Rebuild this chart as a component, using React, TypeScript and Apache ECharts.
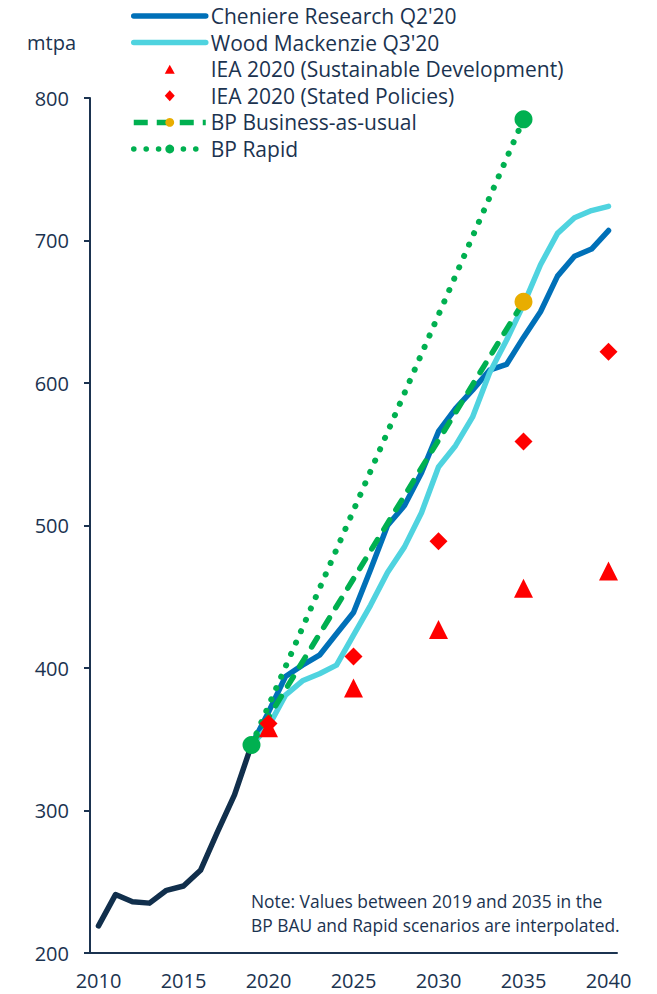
import React, { useEffect, useRef } from "react";
import * as echarts from "echarts";

const years: string[] = [];
for (let y = 2010; y <= 2040; y++) years.push(String(y));

const historyYears = ["2010", "2011", "2012", "2013", "2014", "2015", "2016", "2017", "2018", "2019"];
const historyValues = [219, 241, 236, 235, 244, 247, 258, 285, 311, 346];

const forecastYears = [
  "2019", "2020", "2021", "2022", "2023", "2024", "2025", "2026", "2027", "2028", "2029",
  "2030", "2031", "2032", "2033", "2034", "2035", "2036", "2037", "2038", "2039", "2040",
];
const cheniereValues = [346, 369, 394, 402, 409, 424, 439, 469, 500, 514, 537, 566, 582, 595, 609, 613, 632, 650, 675, 689, 694, 707];
const woodMacValues = [346, 359, 381, 391, 396, 402, 423, 444, 467, 485, 509, 541, 556, 576, 607, 630, 655, 683, 705, 716, 721, 724];

const ieaYears = ["2020", "2025", "2030", "2035", "2040"];
const ieaSustainable = [358, 386, 427, 456, 468];
const ieaStated = [361, 408, 489, 559, 622];

const bpYears = ["2019", "2035"];
const bpBau = [346, 657];
const bpRapid = [346, 785];

const yTicks = { min: 200, max: 800, interval: 100 };

const NAVY = "#1b3350";
const HIST = "#112f4c";
const BLUE = "#0070b8";
const CYAN = "#4fd3df";
const RED = "#ff0000";
const GREEN = "#00b050";
const GOLD = "#e8ad00";
const FONT = "Open Sans";
const NOFILL = "rgba(0,0,0,0)";

// legend icons: outer moveTo points fix the box to the 72x11 legend slot so the mark is not stretched
const TRIANGLE_ICON = "path://M0,0M72,11M31,10L36,1L41,10Z";
const DIAMOND_ICON = "path://M0,0M72,11M36,0L41,5.5L36,11L31,5.5Z";

export default function App() {
  const ref = useRef<HTMLDivElement>(null);
  useEffect(() => {
    if (!ref.current) return;
    const chart = echarts.init(ref.current, undefined, { renderer: "svg" });
    const pairs = (xs: string[], vs: number[]) => xs.map((x, i) => [x, vs[i]]);
    chart.setOption({
      animation: false,
      textStyle: { fontFamily: FONT },
      grid: { left: 90, right: 40, top: 98, bottom: 41, containLabel: false },
      legend: {
        orient: "vertical",
        left: 131,
        top: 5,
        padding: 0,
        itemWidth: 72,
        itemHeight: 11,
        itemGap: 4.6,
        textStyle: { fontSize: 21, lineHeight: 22, color: NAVY, fontFamily: FONT },
        data: [
          {
            name: "Cheniere Research Q2'20",
            itemStyle: { color: NOFILL, borderWidth: 0 },
            lineStyle: { color: BLUE, width: 5.5, cap: "round" },
          },
          {
            name: "Wood Mackenzie Q3'20",
            itemStyle: { color: NOFILL, borderWidth: 0 },
            lineStyle: { color: CYAN, width: 5.5, cap: "round" },
          },
          { name: "IEA 2020 (Sustainable Development)", icon: TRIANGLE_ICON },
          { name: "IEA 2020 (Stated Policies)", icon: DIAMOND_ICON },
          {
            name: "BP Business-as-usual",
            lineStyle: { color: GREEN, width: 5.5, type: [14, 9], cap: "butt" },
          },
          {
            name: "BP Rapid",
            lineStyle: { color: GREEN, width: 5.5, type: [0.1, 12.3], cap: "round" },
          },
        ],
      },
      xAxis: {
        type: "category",
        data: years,
        boundaryGap: true,
        axisLine: { show: true, lineStyle: { color: NAVY, width: 2 } },
        axisTick: { show: false },
        axisLabel: {
          interval: 4,
          fontSize: 20,
          lineHeight: 20,
          color: NAVY,
          margin: 17,
          fontFamily: FONT,
        },
        splitLine: { show: false },
      },
      yAxis: {
        type: "value",
        min: yTicks.min,
        max: yTicks.max,
        interval: yTicks.interval,
        axisLine: { show: true, lineStyle: { color: NAVY, width: 2 } },
        axisTick: { show: true, length: 6, lineStyle: { color: NAVY, width: 2 } },
        axisLabel: { fontSize: 20, color: NAVY, margin: 21, fontFamily: FONT },
        splitLine: { show: false },
      },
      graphic: [
        {
          type: "text",
          left: 27,
          top: 32,
          style: { text: "mtpa", fontSize: 20, fill: NAVY, fontFamily: FONT },
        },
        {
          type: "text",
          left: 251,
          top: 889,
          style: {
            text:
              "Note: Values between 2019 and 2035 in the\nBP BAU and Rapid scenarios are interpolated.",
            fontSize: 17.4,
            lineHeight: 24,
            fill: NAVY,
            fontFamily: FONT,
          },
        },
      ],
      series: [
        {
          name: "History",
          type: "line",
          data: pairs(historyYears, historyValues),
          symbol: "none",
          lineStyle: { color: HIST, width: 5.5, cap: "round", join: "round" },
          itemStyle: { color: HIST },
          z: 2,
        },
        {
          name: "Cheniere Research Q2'20",
          type: "line",
          data: pairs(forecastYears, cheniereValues),
          symbol: "none",
          lineStyle: { color: BLUE, width: 5.5, cap: "round", join: "round" },
          itemStyle: { color: BLUE },
          z: 3,
        },
        {
          name: "Wood Mackenzie Q3'20",
          type: "line",
          data: pairs(forecastYears, woodMacValues),
          symbol: "none",
          lineStyle: { color: CYAN, width: 5.5, cap: "round", join: "round" },
          itemStyle: { color: CYAN },
          z: 3,
        },
        {
          name: "BP Business-as-usual",
          type: "line",
          data: bpYears.map((x, i) =>
            i === 0 ? { value: [x, bpBau[i]], symbol: "none" } : { value: [x, bpBau[i]] }
          ),
          symbol: "circle",
          symbolSize: 18,
          showSymbol: true,
          showAllSymbol: true,
          lineStyle: { color: GREEN, width: 5.5, type: [11, 12], cap: "round" },
          itemStyle: { color: GOLD },
          z: 4,
        },
        {
          name: "BP Rapid",
          type: "line",
          data: pairs(bpYears, bpRapid),
          symbol: "circle",
          symbolSize: 18,
          showSymbol: true,
          showAllSymbol: true,
          lineStyle: { color: GREEN, width: 6, type: [0.1, 12.3], cap: "round" },
          itemStyle: { color: GREEN },
          z: 5,
        },
        {
          name: "IEA 2020 (Sustainable Development)",
          type: "scatter",
          data: pairs(ieaYears, ieaSustainable),
          symbol: "triangle",
          symbolSize: 19,
          itemStyle: { color: RED, opacity: 1 },
          z: 6,
        },
        {
          name: "IEA 2020 (Stated Policies)",
          type: "scatter",
          data: pairs(ieaYears, ieaStated),
          symbol: "diamond",
          symbolSize: 18,
          itemStyle: { color: RED, opacity: 1 },
          z: 6,
        },
      ],
    });
    return () => chart.dispose();
  }, []);
  return (
    <div
      ref={ref}
      style={{ position: "fixed", left: 0, top: 0, width: 657, height: 994, background: "#fff" }}
    />
  );
}
